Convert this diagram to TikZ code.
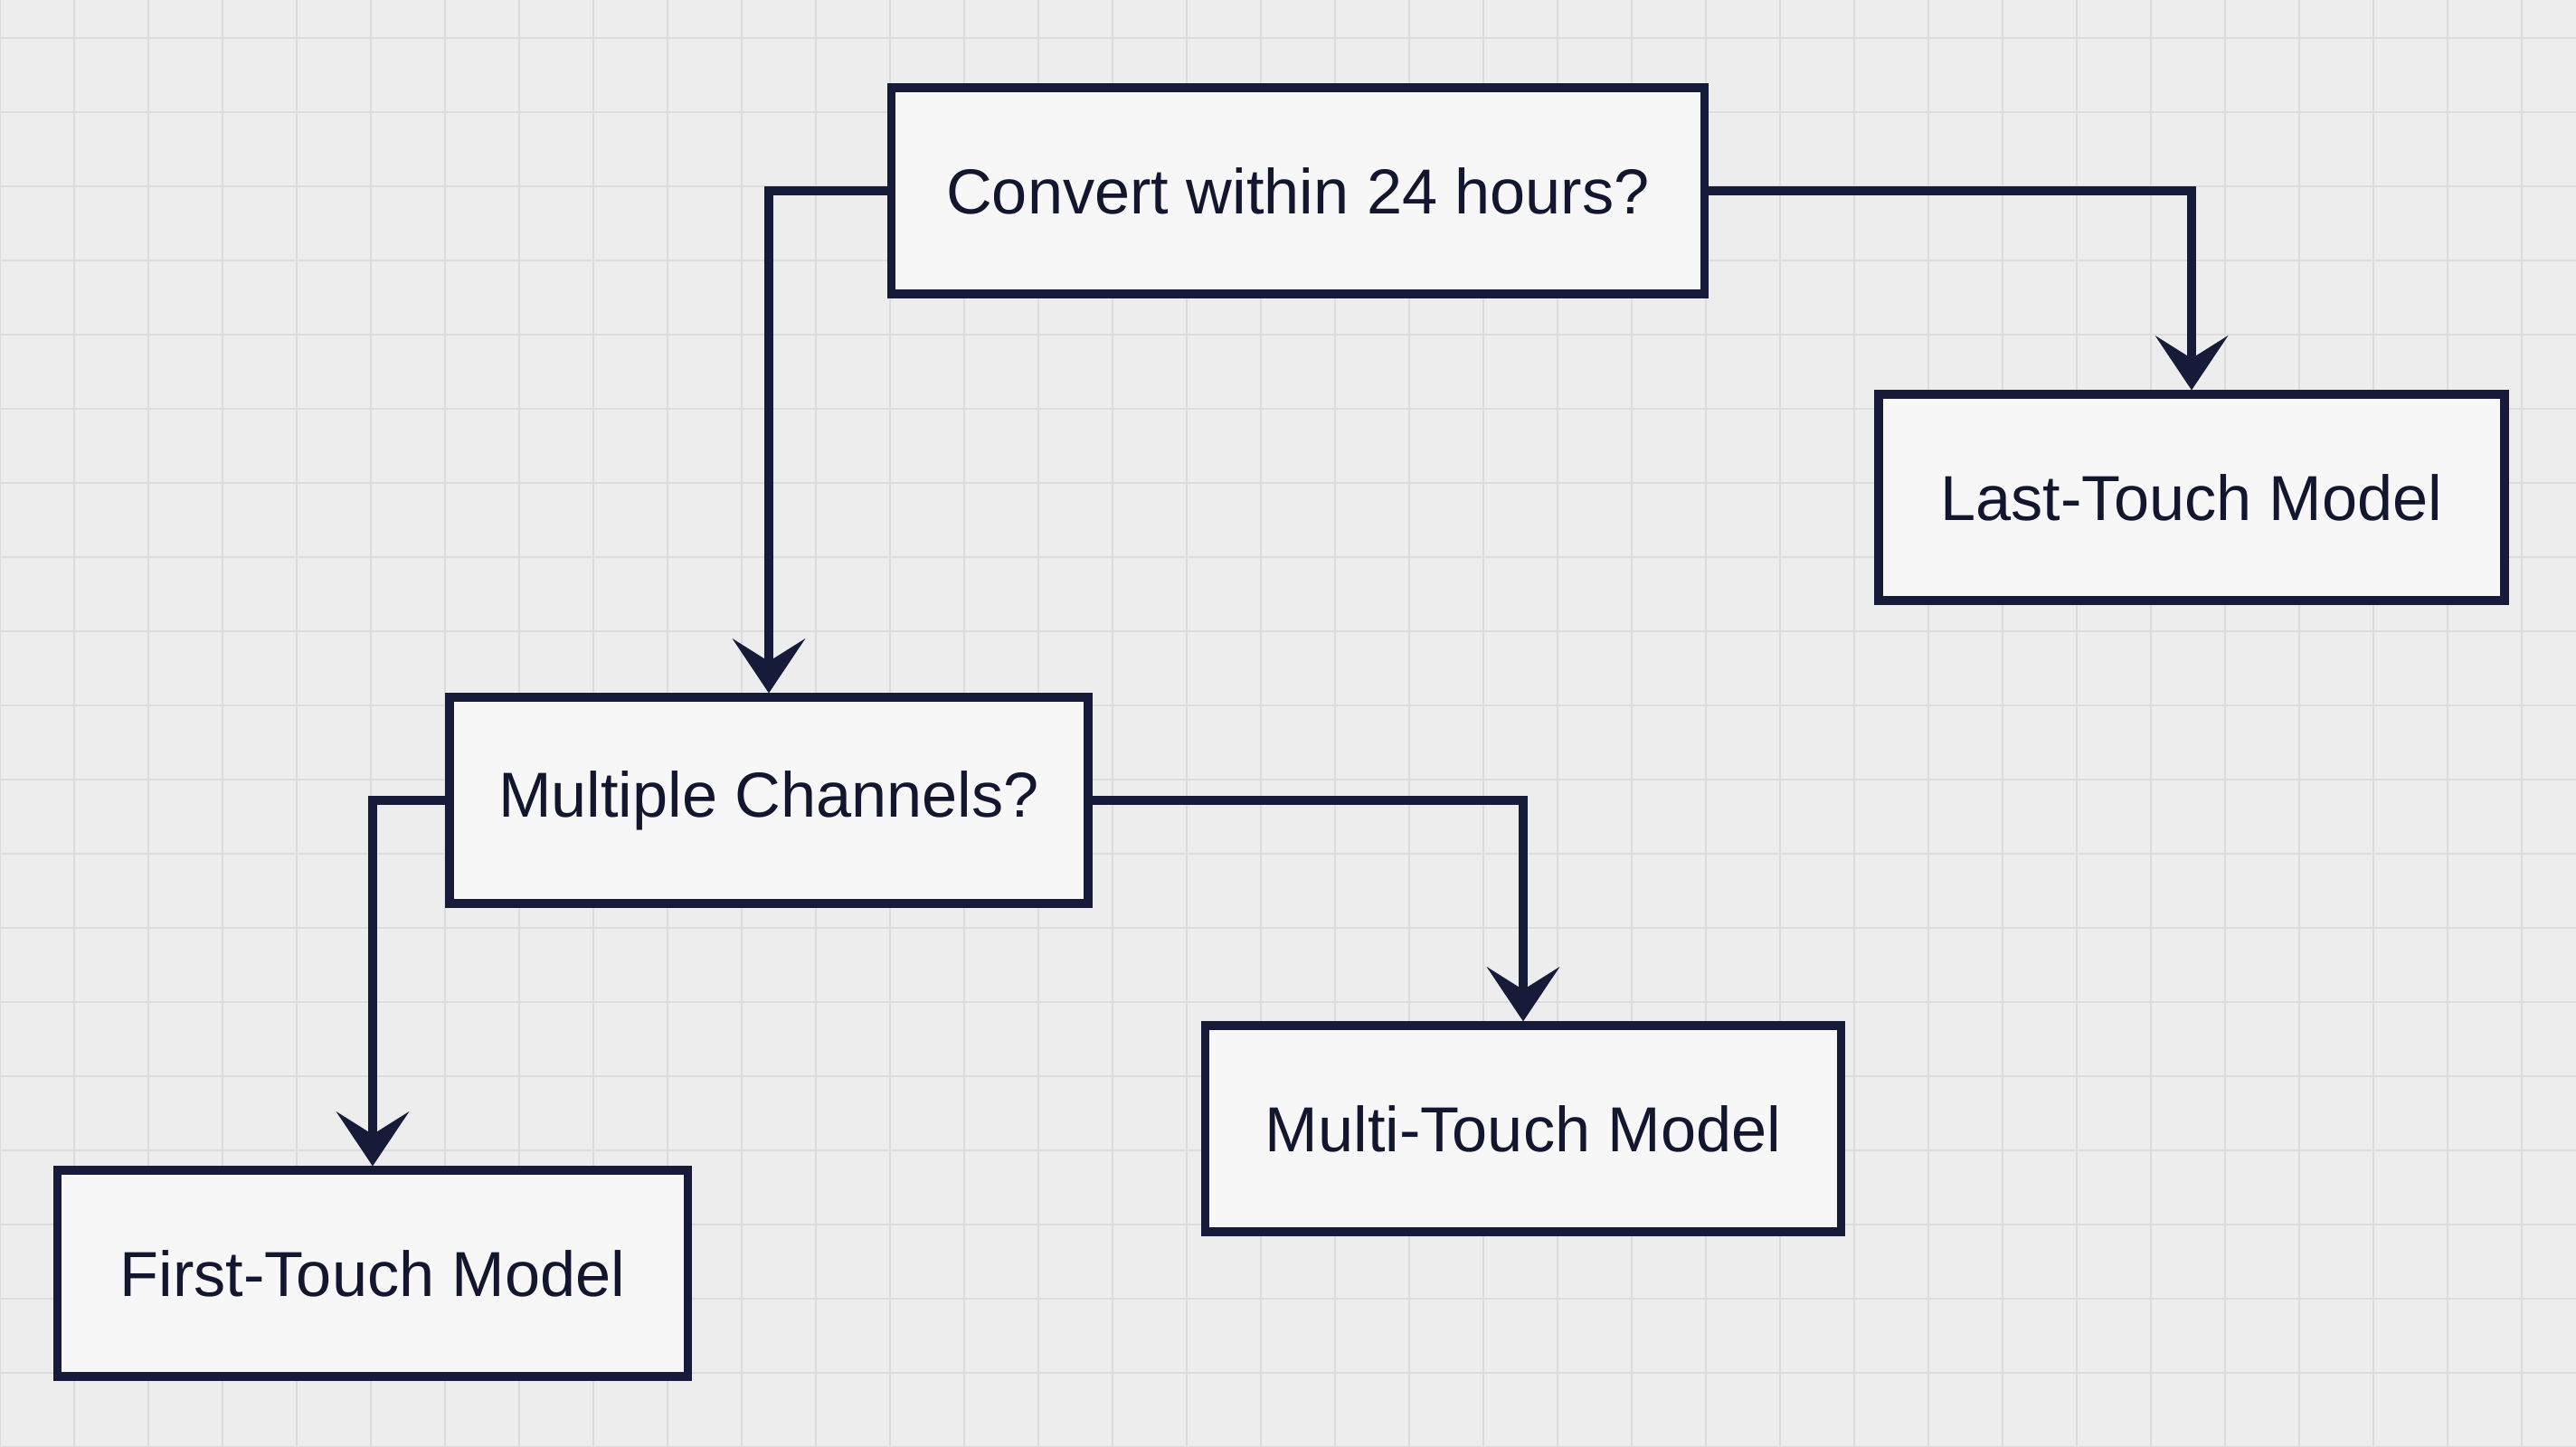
\documentclass[tikz,border=0pt]{standalone}
\usepackage{fontspec}
\setmainfont{Liberation Sans}
\usetikzlibrary{arrows.meta}
\definecolor{navy}{HTML}{161B3A}
\definecolor{bg}{HTML}{EDEDEE}
\definecolor{gridc}{HTML}{DCDCDF}
\definecolor{boxfill}{HTML}{F7F7F8}
\begin{document}
\begin{tikzpicture}[
  box/.style={draw=navy, line width=2.6pt, fill=boxfill, minimum height=2.28cm, inner sep=0pt, font=\fontsize{20}{24}\selectfont, text=navy!80!black},
  conn/.style={draw=navy, line width=2.6pt, -{Stealth[length=0.6cm,width=0.8cm,inset=0.25cm]}}
]
\fill[bg] (0,0) rectangle (28.48,16);
\useasboundingbox (0,0) rectangle (28.48,16);
\draw[gridc, line width=0.6pt, step=0.82] (0,0) grid (28.48,16);
\node[box, minimum width=8.99cm] (conv) at (14.35,13.89) {Convert within 24 hours?};
\node[box, minimum width=6.92cm] (last) at (24.23,10.50) {Last-Touch Model};
\node[box, minimum width=7.06cm] (mult) at (8.50,7.15) {Multiple Channels?};
\node[box, minimum width=7.03cm] (mt) at (16.84,3.52) {Multi-Touch Model};
\node[box, minimum width=6.97cm] (first) at (4.12,1.92) {First-Touch Model};
\draw[conn] (conv.west) -| (mult.north);
\draw[conn] (conv.east) -| (last.north);
\draw[conn] (mult.west) -| (first.north);
\draw[conn] (mult.east) -| (mt.north);
\end{tikzpicture}
\end{document}
